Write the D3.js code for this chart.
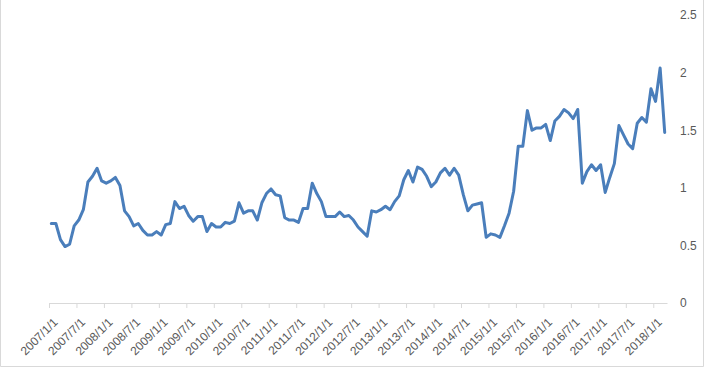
<!DOCTYPE html>
<html>
<head>
<meta charset="utf-8">
<script src="https://cdn.jsdelivr.net/npm/d3@7/dist/d3.min.js"></script>
<style>
  html, body { margin: 0; padding: 0; background: #fff; }
  svg { display: block; }
</style>
</head>
<body>
<svg id="chart" width="705" height="369"></svg>
<script>
// Monthly values, 2007/1 .. 2018/3
const startYear = 2007;
const values = [
  0.69, 0.69, 0.55, 0.49, 0.51, 0.67, 0.72, 0.81, 1.05, 1.10,
  1.17, 1.06, 1.04, 1.06, 1.09, 1.02, 0.80, 0.75, 0.67, 0.69,
  0.63, 0.59, 0.59, 0.62, 0.59, 0.68, 0.69, 0.88, 0.82, 0.84,
  0.76, 0.71, 0.75, 0.75, 0.62, 0.69, 0.66, 0.66, 0.70, 0.69,
  0.71, 0.87, 0.78, 0.80, 0.80, 0.72, 0.87, 0.95, 0.99, 0.94,
  0.93, 0.74, 0.72, 0.72, 0.70, 0.82, 0.82, 1.04, 0.95, 0.88,
  0.75, 0.75, 0.75, 0.79, 0.75, 0.76, 0.72, 0.66, 0.62, 0.58,
  0.80, 0.79, 0.81, 0.84, 0.81, 0.88, 0.93, 1.07, 1.15, 1.05,
  1.18, 1.16, 1.10, 1.01, 1.05, 1.13, 1.17, 1.11, 1.17, 1.11,
  0.94, 0.80, 0.85, 0.86, 0.87, 0.57, 0.60, 0.59, 0.57, 0.67,
  0.78, 0.97, 1.36, 1.36, 1.67, 1.50, 1.52, 1.52, 1.55, 1.41,
  1.58, 1.62, 1.68, 1.65, 1.60, 1.68, 1.04, 1.14, 1.20, 1.15,
  1.20, 0.96, 1.09, 1.21, 1.54, 1.46, 1.38, 1.34, 1.56, 1.61,
  1.57, 1.86, 1.75, 2.04, 1.48
];
const months = values.map((v, i) => `${startYear + Math.floor(i / 12)}/${(i % 12) + 1}`);
const tickLabels = [
  "2007/1/1","2007/7/1","2008/1/1","2008/7/1","2009/1/1","2009/7/1",
  "2010/1/1","2010/7/1","2011/1/1","2011/7/1","2012/1/1","2012/7/1",
  "2013/1/1","2013/7/1","2014/1/1","2014/7/1","2015/1/1","2015/7/1",
  "2016/1/1","2016/7/1","2017/1/1","2017/7/1","2018/1/1"
];
const yTicks = [0, 0.5, 1, 1.5, 2, 2.5];

const svg = d3.select("#chart");
const W = 705, H = 369;

// chart border (light gray)
svg.append("path")
  .attr("d", `M0.5,-2 V${H - 2.5} H${W - 1.5} V-2`)
  .attr("fill", "none").attr("stroke", "#d9d9d9").attr("stroke-width", 1);

const x = d3.scaleLinear().domain([0, values.length]).range([49, 667]);
const y = d3.scaleLinear().domain([0, 2.5]).range([303, 15]);

// x axis
const tickIdx = tickLabels.map((t, i) => i * 6);
const xAxis = d3.axisBottom(x)
  .tickValues(tickIdx)
  .tickFormat((d, i) => tickLabels[i])
  .tickSize(5)
  .tickSizeOuter(0);
const gx = svg.append("g").attr("transform", "translate(0,303)").call(xAxis);
gx.select(".domain").attr("stroke", "#d9d9d9").attr("stroke-width", 1);
gx.selectAll(".tick line").attr("stroke", "#d9d9d9");
gx.selectAll(".tick text")
  .attr("font-family", "'Liberation Sans', Arial, sans-serif")
  .attr("font-size", "12px")
  .attr("fill", "#595959")
  .attr("text-anchor", "end")
  .attr("dy", "0")
  .attr("transform", "translate(9,20) rotate(-45)")
  .attr("y", 0).attr("x", 0);

// y axis on right
const yAxis = d3.axisRight(y).tickValues(yTicks).tickFormat(d3.format("")).tickSize(0).tickPadding(0);
const gy = svg.append("g").attr("transform", "translate(680,0)").call(yAxis);
gy.select(".domain").remove();
gy.selectAll(".tick text")
  .attr("font-family", "'Liberation Sans', Arial, sans-serif")
  .attr("font-size", "12px")
  .attr("fill", "#595959");

// line
const line = d3.line()
  .x((d, i) => x(i + 0.5))
  .y(d => y(d))
  .curve(d3.curveLinear);

svg.append("path")
  .datum(values)
  .attr("d", line)
  .attr("fill", "none")
  .attr("stroke", "#4A7EBB")
  .attr("stroke-width", 3)
  .attr("stroke-linejoin", "round")
  .attr("stroke-linecap", "round");
</script>
</body>
</html>
